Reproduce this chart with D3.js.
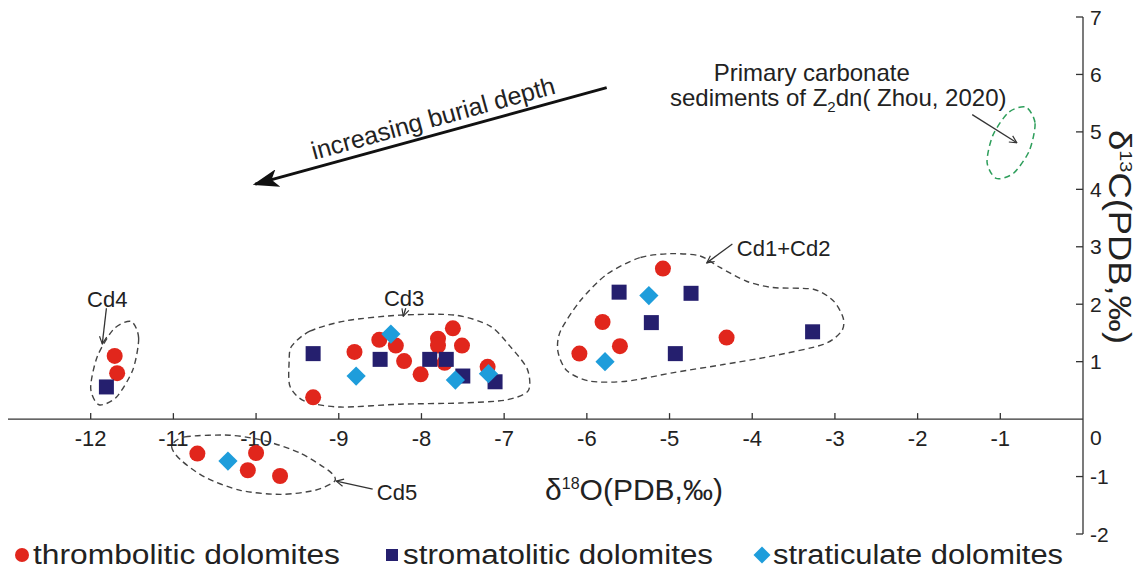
<!DOCTYPE html>
<html>
<head>
<meta charset="utf-8">
<script src="https://cdn.jsdelivr.net/npm/d3@7"></script>
<style>
  body { margin: 0; background: #fff; }
  text { font-family: "Liberation Sans", Arial, sans-serif; fill: #222; }
  .legend text { font-family: "Liberation Sans Narrow", "Arial Narrow", "Liberation Sans", sans-serif; }
</style>
</head>
<body>
<div id="main"></div>
<script>
const W = 1146;
const H = 570;

// data points [δ18O, δ13C]
const thrombolitic = [
    [-11.71, 1.10], [-11.68, 0.80],
    [-10.71, -0.60], [-10.00, -0.59], [-10.10, -0.89], [-9.71, -0.99],
    [-9.31, 0.38], [-8.81, 1.17], [-8.51, 1.38], [-8.31, 1.28], [-8.21, 1.01], [-8.01, 0.78],
    [-7.80, 1.40], [-7.80, 1.28], [-7.72, 0.98], [-7.62, 1.58], [-7.51, 1.28], [-7.20, 0.91],
    [-5.08, 2.62], [-5.81, 1.69], [-4.31, 1.42], [-5.60, 1.27], [-6.09, 1.14]
];
const stromatolitic = [
    [-11.81, 0.56], [-9.31, 1.14], [-8.50, 1.04], [-7.90, 1.04], [-7.70, 1.04], [-7.50, 0.75],
    [-7.11, 0.65], [-5.61, 2.21], [-4.74, 2.19], [-5.22, 1.68], [-3.27, 1.52], [-4.93, 1.14]
];
const straticulate = [
    [-10.34, -0.73], [-8.79, 0.75], [-8.37, 1.48], [-7.59, 0.68], [-7.19, 0.79],
    [-5.25, 2.15], [-5.78, 1.00]
];

const xTicks = [-12, -11, -10, -9, -8, -7, -6, -5, -4, -3, -2, -1];
const yTicks = [7, 6, 5, 4, 3, 2, 1, 0, -1, -2];
const legendLabels = ["thrombolitic dolomites", "stromatolitic dolomites", "straticulate dolomites"];

// group outlines (data units)
const cd4Outline = [[-11.51, 1.70], [-11.42, 1.41], [-11.49, 0.86], [-11.69, 0.38], [-11.90, 0.25],
    [-12.00, 0.54], [-11.92, 1.09], [-11.72, 1.57]];
const cd5Outline = [[-11.02, -0.47], [-10.86, -0.31], [-10.32, -0.28], [-9.89, -0.38], [-9.47, -0.59],
    [-9.11, -0.91], [-9.05, -1.08], [-9.29, -1.24], [-9.71, -1.31], [-10.19, -1.24], [-10.62, -1.01], [-10.92, -0.70]];
const cd3Outline = [[-9.57, 1.27], [-9.35, 1.53], [-8.92, 1.71], [-8.26, 1.81], [-7.59, 1.81], [-7.17, 1.62],
    [-6.93, 1.27], [-6.72, 0.87], [-6.71, 0.49], [-6.99, 0.33], [-7.53, 0.28], [-8.26, 0.26],
    [-8.98, 0.21], [-9.41, 0.31], [-9.59, 0.57], [-9.60, 1.01]];
const cd12Outline = [[-4.99, 2.88], [-5.36, 2.81], [-5.76, 2.52], [-6.08, 2.06], [-6.32, 1.53], [-6.35, 1.18],
    [-6.24, 0.84], [-5.96, 0.66], [-5.52, 0.66], [-4.95, 0.81], [-4.35, 0.95], [-3.75, 1.10],
    [-3.14, 1.30], [-2.92, 1.53], [-2.90, 1.76], [-3.02, 2.06], [-3.26, 2.26], [-3.75, 2.29],
    [-4.07, 2.40], [-4.39, 2.64], [-4.63, 2.84]];
const primaryOutline = [[-0.69, 5.43], [-0.58, 5.15], [-0.65, 4.67], [-0.84, 4.28], [-1.05, 4.19],
    [-1.16, 4.47], [-1.09, 4.94], [-0.90, 5.34]];

// labels: [text, x, y, anchor]; pointer arrows: [from, to]
const groupLabels = [
    ["Cd4", -11.80, 2.09, "middle"],
    ["Cd3", -8.21, 2.11, "middle"],
    ["Cd1+Cd2", -3.62, 2.98, "middle"],
    ["Cd5", -8.54, -1.27, "start"]
];
const pointers = [
    [[-11.81, 1.93], [-11.86, 1.31]],
    [[-8.19, 1.93], [-8.22, 1.79]],
    [[-4.24, 3.05], [-4.55, 2.72]],
    [[-8.59, -1.22], [-9.03, -1.08]],
    [[-1.34, 5.30], [-0.80, 4.81]]
];
const burialArrow = [[-5.76, 5.77], [-10.01, 4.09]];

var svg = d3.select("#main").append("svg")
    .attr("width", W)
    .attr("height", H);

var x = d3.scaleLinear().domain([-13, 0]).range([8, 1083]);
var y = d3.scaleLinear().domain([-2, 7]).range([534, 17]);

var defs = svg.append("defs");
defs.append("marker")
    .attr("id", "openHead")
    .attr("viewBox", "0 0 10 10")
    .attr("refX", 9).attr("refY", 5)
    .attr("markerWidth", 9).attr("markerHeight", 9)
    .attr("markerUnits", "userSpaceOnUse")
    .attr("orient", "auto")
    .append("path")
    .attr("d", "M1,1 L9,5 L1,9")
    .attr("fill", "none")
    .attr("stroke", "#333")
    .attr("stroke-width", 1.3);
defs.append("marker")
    .attr("id", "bigHead")
    .attr("viewBox", "0 0 10 10")
    .attr("refX", 9).attr("refY", 5)
    .attr("markerWidth", 26).attr("markerHeight", 18)
    .attr("markerUnits", "userSpaceOnUse")
    .attr("orient", "auto")
    .attr("preserveAspectRatio", "none")
    .append("path")
    .attr("d", "M0,0 L10,5 L0,10 L2.5,5 Z")
    .attr("fill", "#111");

// axes
var axisG = svg.append("g").attr("class", "axes");
axisG.append("line")
    .attr("x1", x(-13)).attr("x2", x(0))
    .attr("y1", y(0)).attr("y2", y(0))
    .attr("stroke", "#333").attr("stroke-width", 1.3);
axisG.selectAll("line.xt")
    .data(xTicks)
    .enter()
    .append("line")
    .attr("class", "xt")
    .attr("x1", d => x(d)).attr("x2", d => x(d))
    .attr("y1", y(0)).attr("y2", y(0) - 6)
    .attr("stroke", "#333").attr("stroke-width", 1.3);
axisG.selectAll("text.xl")
    .data(xTicks)
    .enter()
    .append("text")
    .attr("class", "xl")
    .attr("x", d => x(d))
    .attr("y", y(0) + 27)
    .attr("text-anchor", "middle")
    .style("font-size", "22px")
    .text(d => d);

axisG.append("line")
    .attr("x1", x(0)).attr("x2", x(0))
    .attr("y1", y(7)).attr("y2", y(-2))
    .attr("stroke", "#333").attr("stroke-width", 1.3);
axisG.selectAll("line.yt")
    .data(yTicks.filter(d => d !== 0))
    .enter()
    .append("line")
    .attr("class", "yt")
    .attr("x1", x(0) - 7).attr("x2", x(0))
    .attr("y1", d => y(d)).attr("y2", d => y(d))
    .attr("stroke", "#333").attr("stroke-width", 1.3);
axisG.selectAll("text.yl")
    .data(yTicks)
    .enter()
    .append("text")
    .attr("class", "yl")
    .attr("x", x(0) + 7)
    .attr("y", d => y(d) + (d === 0 ? 18 : 0))
    .attr("dy", "0.36em")
    .style("font-size", "21px")
    .text(d => d);

// axis titles
var xt = svg.append("text")
    .attr("x", 634)
    .attr("y", 500)
    .attr("text-anchor", "middle")
    .style("font-size", "30px");
xt.append("tspan").text("δ");
xt.append("tspan").attr("dy", -11).style("font-size", "16px").text("18");
xt.append("tspan").attr("dy", 11).text("O(PDB,‰)");

var yt = svg.append("text")
    .attr("transform", "translate(" + (x(0) + 26) + "," + y(3.17) + ") rotate(90)")
    .attr("text-anchor", "middle")
    .attr("textLength", 214)
    .attr("lengthAdjust", "spacingAndGlyphs")
    .style("font-size", "31px");
yt.append("tspan").text("δ");
yt.append("tspan").attr("dy", -11).style("font-size", "17px").text("13");
yt.append("tspan").attr("dy", 11).text("C(PDB,‰)");

// group outlines
var outline = d3.line()
    .x(d => x(d[0]))
    .y(d => y(d[1]))
    .curve(d3.curveCardinalClosed.tension(0.2));
svg.append("g")
    .selectAll("path")
    .data([cd4Outline, cd5Outline, cd3Outline, cd12Outline])
    .enter()
    .append("path")
    .attr("d", outline)
    .attr("fill", "none")
    .attr("stroke", "#444")
    .attr("stroke-width", 1.4)
    .attr("stroke-dasharray", "6,4");
svg.append("path")
    .attr("d", outline(primaryOutline))
    .attr("fill", "none")
    .attr("stroke", "#2e9e5b")
    .attr("stroke-width", 1.5)
    .attr("stroke-dasharray", "6,4");

// labels and pointers
svg.append("g")
    .selectAll("text")
    .data(groupLabels)
    .enter()
    .append("text")
    .attr("x", d => x(d[1]))
    .attr("y", d => y(d[2]))
    .attr("dy", "0.35em")
    .attr("text-anchor", d => d[3])
    .style("font-size", "22px")
    .text(d => d[0]);
svg.append("g")
    .selectAll("line")
    .data(pointers)
    .enter()
    .append("line")
    .attr("x1", d => x(d[0][0])).attr("y1", d => y(d[0][1]))
    .attr("x2", d => x(d[1][0])).attr("y2", d => y(d[1][1]))
    .attr("stroke", "#333")
    .attr("stroke-width", 1.3)
    .attr("marker-end", "url(#openHead)");

var prim = svg.append("text")
    .attr("text-anchor", "middle")
    .style("font-size", "24px");
prim.append("tspan")
    .attr("x", x(-3.28)).attr("y", y(6.03)).attr("dy", "0.35em")
    .text("Primary carbonate");
prim.append("tspan")
    .attr("x", x(-2.96)).attr("y", y(5.59)).attr("dy", "0.35em")
    .text("sediments of Z");
prim.append("tspan").attr("dy", 6).style("font-size", "15px").text("2");
prim.append("tspan").attr("dy", -6).text("dn( Zhou, 2020)");

// burial depth arrow
svg.append("line")
    .attr("x1", x(burialArrow[0][0])).attr("y1", y(burialArrow[0][1]))
    .attr("x2", x(burialArrow[1][0])).attr("y2", y(burialArrow[1][1]))
    .attr("stroke", "#111")
    .attr("stroke-width", 3)
    .attr("marker-end", "url(#bigHead)");
var ang = Math.atan2(y(burialArrow[0][1]) - y(burialArrow[1][1]), x(burialArrow[0][0]) - x(burialArrow[1][0])) * 180 / Math.PI;
svg.append("text")
    .attr("transform", "translate(" + x(-7.86) + "," + y(5.24) + ") rotate(" + ang + ")")
    .attr("text-anchor", "middle")
    .attr("dy", "0.35em")
    .style("font-size", "25px")
    .text("increasing burial depth");

// data markers
var pts = svg.append("g").attr("class", "points");
pts.selectAll("circle")
    .data(thrombolitic)
    .enter()
    .append("circle")
    .attr("cx", d => x(d[0]))
    .attr("cy", d => y(d[1]))
    .attr("r", 8)
    .attr("fill", "#e1261c");
pts.selectAll("rect.sq")
    .data(stromatolitic)
    .enter()
    .append("rect")
    .attr("class", "sq")
    .attr("x", d => x(d[0]) - 7.5)
    .attr("y", d => y(d[1]) - 7.5)
    .attr("width", 15)
    .attr("height", 15)
    .attr("fill", "#251f6e");
pts.selectAll("rect.dm")
    .data(straticulate)
    .enter()
    .append("rect")
    .attr("class", "dm")
    .attr("x", -6.8)
    .attr("y", -6.8)
    .attr("width", 13.6)
    .attr("height", 13.6)
    .attr("transform", d => "translate(" + x(d[0]) + "," + y(d[1]) + ") rotate(45)")
    .attr("fill", "#1e9ddb");

// legend
var legX = [22, 392, 762];
var legW = [307, 310, 290];
var leg = svg.append("g").attr("class", "legend");
leg.append("circle").attr("cx", legX[0]).attr("cy", 555).attr("r", 7).attr("fill", "#e1261c");
leg.append("rect").attr("x", legX[1] - 6).attr("y", 549).attr("width", 12).attr("height", 12).attr("fill", "#251f6e");
leg.append("rect").attr("x", -6).attr("y", -6).attr("width", 12).attr("height", 12)
    .attr("transform", "translate(" + legX[2] + ",555) rotate(45)")
    .attr("fill", "#1e9ddb");
leg.selectAll("text")
    .data(legendLabels)
    .enter()
    .append("text")
    .attr("x", (d, i) => legX[i] + 11)
    .attr("y", 564)
    .attr("textLength", (d, i) => legW[i])
    .attr("lengthAdjust", "spacingAndGlyphs")
    .style("font-size", "27px")
    .text(d => d);
</script>
</body>
</html>
